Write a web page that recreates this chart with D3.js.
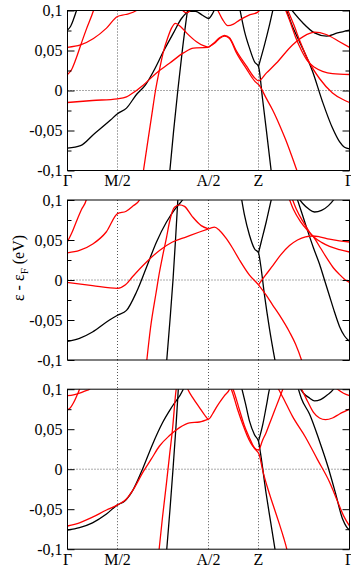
<!DOCTYPE html>
<html>
<head>
<meta charset="utf-8">
<script src="https://cdn.jsdelivr.net/npm/d3@7"></script>
<style>
  body { margin: 0; background: #fff; }
  svg { display: block; }
  svg text { font-family: "Liberation Serif", "Times New Roman", serif; fill: #000; }
  .tick line { stroke: #000; }
</style>
</head>
<body>
<svg width="351" height="568"></svg>
<script>

// k-path: Γ - M/2 - A/2 - Z - Γ  (k in arbitrary path units)
const kTicks  = [0, 50, 141, 191, 282];
const kLabels = ["Γ", "M/2", "A/2", "Z", "Γ"];

// energy ticks (eV)
const eTicks  = [-0.1, -0.05, 0, 0.05, 0.1];
const eMinor  = [-0.075, -0.025, 0.025, 0.075];

// bands, [k, E]
const p1Black = [
  [[0,-0.072],[13,-0.069],[26,-0.055],[43,-0.037],[50,-0.029],[59,-0.022],[69,-0.005],[78,0.007],[86,0.024],[96,0.049],[106,0.072],[114,0.090],[122,0.099],[128,0.099],[135,0.094],[141,0.090],[145,0.096],[148,0.104]],
  [[102,-0.105],[106,-0.052],[110.3,0],[115,0.052],[120.5,0.105]],
  [[0,0.0756],[3,0.080],[6,0.089],[9,0.1],[10,0.104]],
  [[172,0.104],[177,0.074],[182,0.053],[187,0.036],[191,0.030],[195,-0.010],[199,-0.051],[204,-0.104]],
  [[191,0.030],[197,0.057],[202,0.082],[206,0.104]],
  [[218,0.104],[225,0.080],[232,0.061],[245,0.024],[255,-0.014],[265,-0.047],[272,-0.064],[277,-0.071],[282,-0.073]],
  [[222,0.104],[235,0.085],[247,0.072],[259,0.068],[270,0.072],[282,0.0756]]
];
const p1Red = [
  [[0,-0.015],[25,-0.0125],[50,-0.0104],[59,-0.008],[63,-0.005],[76,0.007],[89,0.022],[102,0.034],[116,0.047],[126,0.053],[141,0.054]],
  [[75.5,-0.104],[80,-0.066],[84,-0.033],[88,0],[92,0.026],[96,0.049],[100,0.065],[104,0.078],[108,0.084],[113,0.080],[119,0.072],[129,0.061],[136,0.056],[141,0.054]],
  [[141,0.054],[147,0.060],[152,0.066],[157,0.069],[162,0.066],[168.7,0.050],[178.7,0.031],[187,0.016],[191,0.012],[199,0.022],[208.7,0.034],[225,0.057],[238.7,0.0696],[247,0.073],[258.7,0.070],[272,0.061],[282,0.054]],
  [[141,0.054],[147,0.059],[152,0.065],[157,0.068],[162,0.065],[169,0.047],[179,0.027],[187,0.012],[192,0.006],[198.7,-0.0096],[205,-0.024],[212,-0.043],[218,-0.061],[223.7,-0.080],[230.5,-0.104]],
  [[148,0.104],[150.3,0.1],[155,0.089],[160.3,0.081],[166,0.083],[172,0.088],[181,0.094],[190.3,0.098],[194,0.104]],
  [[0,0.020],[4,0.026],[8,0.038],[13,0.056],[19,0.077],[26,0.1],[27,0.104]],
  [[0,0.054],[13,0.057],[26,0.065],[39,0.078],[50,0.0925],[58,0.095],[69,0.1],[71,0.104]],
  [[113,0.104],[116,0.099],[119,0.097],[122,0.099],[125,0.104]],
  [[217,0.104],[222,0.088],[228,0.067],[234,0.050],[240,0.037],[247,0.029],[255,0.024],[265,0.021],[282,0.020]],
  [[219,0.104],[226,0.083],[233,0.060],[241,0.037],[252,0.015],[265,-0.003],[275,-0.011],[282,-0.015]]
];

const p2Black = [
  [[0,-0.0766],[12,-0.073],[25,-0.065],[42,-0.050],[50,-0.044],[59,-0.038],[69,-0.015],[79,0.016],[89,0.0475],[99,0.0725],[109,0.091],[115,0.1],[117,0.104]],
  [[99,-0.104],[102.5,-0.05],[105.5,0],[108,0.05],[110.5,0.104]],
  [[173.7,0.104],[177,0.081],[182,0.056],[187,0.039],[191,0.034],[193,0.020],[197,-0.019],[202,-0.061],[208,-0.104]],
  [[191,0.034],[193.7,0.0475],[198.7,0.0725],[203.7,0.1],[204.5,0.104]],
  [[229,0.104],[234,0.085],[240,0.062],[246,0.040],[252,0.020],[257,0],[262,-0.020],[267,-0.040],[272,-0.058],[277,-0.070],[282,-0.0766]],
  [[230,0.104],[235,0.096],[241,0.089],[247,0.085],[254,0.087],[261,0.093],[266,0.1],[268,0.104]]
];
const p2Red = [
  [[0,-0.003],[25,-0.007],[50,-0.0104],[58,-0.006],[65,0.004],[79,0.0225],[92,0.037],[105,0.0475],[119,0.054],[132,0.060],[141,0.064]],
  [[79,-0.104],[83,-0.06],[88.7,-0.015],[92,0.010],[95.3,0.031],[99,0.053],[102,0.0725],[107,0.091],[112,0.094],[117,0.092],[125,0.079],[133.7,0.068],[141,0.064]],
  [[141,0.064],[147,0.066],[152,0.062],[158.7,0.052],[165,0.040],[172,0.025],[182,0.006],[191,-0.006],[198.7,-0.019],[205,-0.031],[212,-0.044],[222,-0.065],[228,-0.080],[234,-0.1],[235,-0.104]],
  [[191,-0.006],[198,0.006],[205.3,0.018],[213,0.031],[222,0.043],[230,0.050],[238,0.054],[245,0.055],[252,0.054],[262,0.051],[272,0.049],[282,0.0475]],
  [[221,0.104],[226,0.088],[233,0.073],[240,0.062],[246,0.054],[254,0.047],[262,0.042],[272,0.038],[282,0.035]],
  [[224,0.104],[229,0.088],[236,0.072],[242,0.060],[247,0.052],[253,0.040],[260,0.026],[266,0.015],[272,0.007],[277,0.001],[282,-0.003]],
  [[0,0.034],[12,0.037],[25.3,0.045],[38.7,0.060],[50,0.083],[58.7,0.086],[66,0.093],[72,0.1],[73,0.104]],
  [[0,0.048],[4,0.058],[8.7,0.0725],[14,0.088],[18.7,0.1],[19.5,0.104]]
];

const p3Black = [
  [[0,-0.076],[12,-0.073],[25,-0.067],[39,-0.056],[50,-0.0446],[57,-0.040],[65,-0.027],[75,0.0],[85,0.031],[95,0.058],[105,0.079],[115,0.098],[117,0.104]],
  [[99,-0.104],[102.5,-0.05],[105.5,0],[108.3,0.05],[111,0.104]],
  [[173.7,0.104],[178,0.082],[182,0.060],[187,0.043],[191,0.035],[193,0.020],[198.7,-0.031],[203,-0.065],[208,-0.104]],
  [[191,0.035],[195.3,0.056],[199,0.080],[202,0.1],[203,0.104]],
  [[230,0.104],[234,0.088],[242,0.069],[252,0.035],[260,0.005],[268,-0.030],[275,-0.062],[279,-0.072],[282,-0.076]],
  [[231,0.104],[236,0.095],[242,0.089],[247,0.0854],[253,0.087],[260,0.093],[266,0.1],[268,0.104]]
];
const p3Red = [
  [[0,-0.071],[12,-0.067],[25,-0.060],[39,-0.051],[50,-0.0446],[58.7,-0.0375],[67,-0.023],[75.3,-0.004],[83.7,0.0125],[92,0.029],[102,0.042],[112,0.052],[122,0.058],[132,0.059],[141,0.0625]],
  [[91.3,-0.104],[95,-0.06],[99,-0.017],[102,0.017],[105,0.050],[108.7,0.1],[109.2,0.104]],
  [[119,0.104],[120.3,0.1],[126,0.088],[132,0.077],[137,0.068],[141,0.0625],[145,0.069],[148.7,0.077],[157,0.092],[162,0.1],[163,0.104]],
  [[162,0.104],[163.7,0.1],[170,0.075],[175.3,0.056],[180,0.041],[185.3,0.029],[191,0.024],[195,0.036],[198.7,0.046],[203,0.060],[207,0.073],[211,0.086],[215.3,0.1],[216.5,0.104]],
  [[164,0.104],[165.5,0.1],[172,0.074],[177,0.054],[182,0.039],[187,0.026],[191.5,0.019],[195.3,-0.002],[202,-0.031],[207,-0.050],[212,-0.069],[216,-0.085],[219.3,-0.1],[220,-0.104]],
  [[209,0.104],[211,0.1],[215.3,0.090],[225,0.066],[238,0.040],[250,0.012],[262,-0.016],[270,-0.040],[276,-0.058],[282,-0.071]],
  [[232,0.104],[234,0.1],[240,0.085],[246,0.071],[252,0.064],[258,0.062],[265,0.064],[272,0.069],[282,0.075]],
  [[266,0.104],[270,0.1],[276,0.095],[282,0.092]],
  [[0,0.074],[3,0.077],[6,0.083],[9,0.091],[12,0.1],[13,0.104]],
  [[0,0.092],[6,0.093],[12,0.095],[18,0.098],[22,0.1],[24,0.104]]
];

const panels = [
  { black: p1Black, red: p1Red, top: 10.5,  labels: true  },
  { black: p2Black, red: p2Red, top: 200,   labels: false },
  { black: p3Black, red: p3Red, top: 389.2, labels: true  }
];

const svg     = d3.select("svg");
const left    = 67.5;
const right   = 349.5;
const panel_h = 160;
const serif   = "Liberation Serif";

const x = d3.scaleLinear().domain([0, 282]).range([left, right]);
const fmt = d => String(d).replace(".", ",");

panels.forEach(function(p, i) {
  const y = d3.scaleLinear().domain([-0.1, 0.1]).range([p.top + panel_h, p.top]);
  const g = svg.append("g");

  g.append("clipPath").attr("id", "clip" + i)
    .append("rect")
    .attr("x", left).attr("y", p.top)
    .attr("width", right - left).attr("height", panel_h);

  // dotted guides
  g.append("line")
    .attr("x1", left).attr("x2", right)
    .attr("y1", y(0)).attr("y2", y(0))
    .attr("stroke", "#555").attr("stroke-dasharray", "1,2");
  g.selectAll("line.vguide")
    .data(kTicks.slice(1, 4))
    .enter().append("line")
    .attr("class", "vguide")
    .attr("x1", d => x(d)).attr("x2", d => x(d))
    .attr("y1", p.top).attr("y2", p.top + panel_h)
    .attr("stroke", "#555").attr("stroke-dasharray", "1,2");

  const line = d3.line()
    .curve(d3.curveMonotoneX)
    .x(d => x(d[0]))
    .y(d => y(d[1]));

  const bands = g.append("g").attr("clip-path", "url(#clip" + i + ")");
  bands.selectAll("path.black")
    .data(p.black).enter().append("path")
    .attr("class", "black")
    .attr("d", line)
    .attr("fill", "none").attr("stroke", "#000").attr("stroke-width", 1.3);
  bands.selectAll("path.red")
    .data(p.red).enter().append("path")
    .attr("class", "red")
    .attr("d", line)
    .attr("fill", "none").attr("stroke", "#ff0000").attr("stroke-width", 1.3);

  // axes: ticks pointing inward
  g.append("g").attr("transform", `translate(${left},0)`)
    .call(d3.axisLeft(y).tickValues(eTicks).tickSize(-7).tickPadding(5).tickFormat(fmt))
    .attr("font-family", serif).attr("font-size", 16)
    .call(a => a.select(".domain").remove());
  g.append("g").attr("transform", `translate(${left},0)`)
    .call(d3.axisLeft(y).tickValues(eMinor).tickSize(-4).tickFormat(""))
    .call(a => a.select(".domain").remove());
  g.append("g").attr("transform", `translate(${right},0)`)
    .call(d3.axisRight(y).tickValues(eTicks).tickSize(-7).tickFormat(""))
    .call(a => a.select(".domain").remove());
  g.append("g").attr("transform", `translate(${right},0)`)
    .call(d3.axisRight(y).tickValues(eMinor).tickSize(-4).tickFormat(""))
    .call(a => a.select(".domain").remove());

  g.append("rect")
    .attr("x", left).attr("y", p.top)
    .attr("width", right - left).attr("height", panel_h)
    .attr("fill", "none").attr("stroke", "#000").attr("stroke-width", 1);

  if (p.labels) {
    g.selectAll("text.klabel")
      .data(kTicks).enter().append("text")
      .attr("class", "klabel")
      .attr("x", d => x(d))
      .attr("y", p.top + panel_h + 15.5)
      .attr("text-anchor", "middle")
      .attr("font-family", serif)
      .attr("font-size", 16)
      .text((d, j) => kLabels[j]);
  }
});

// dotted guides running through the gap between panels 2 and 3
svg.selectAll("line.gap")
  .data(kTicks.slice(1, 4))
  .enter().append("line")
  .attr("x1", d => x(d)).attr("x2", d => x(d))
  .attr("y1", panels[1].top + panel_h).attr("y2", panels[2].top)
  .attr("stroke", "#555").attr("stroke-dasharray", "1,2");

// y title
const title = svg.append("text")
  .attr("transform", "translate(24,268) rotate(-90)")
  .attr("text-anchor", "middle")
  .attr("font-family", serif)
  .attr("font-size", 16);
title.append("tspan").text("ε - ε");
title.append("tspan").attr("dy", 4).attr("font-size", 11).text("F");
title.append("tspan").attr("dy", -4).text(" (eV)");

</script>
</body>
</html>
